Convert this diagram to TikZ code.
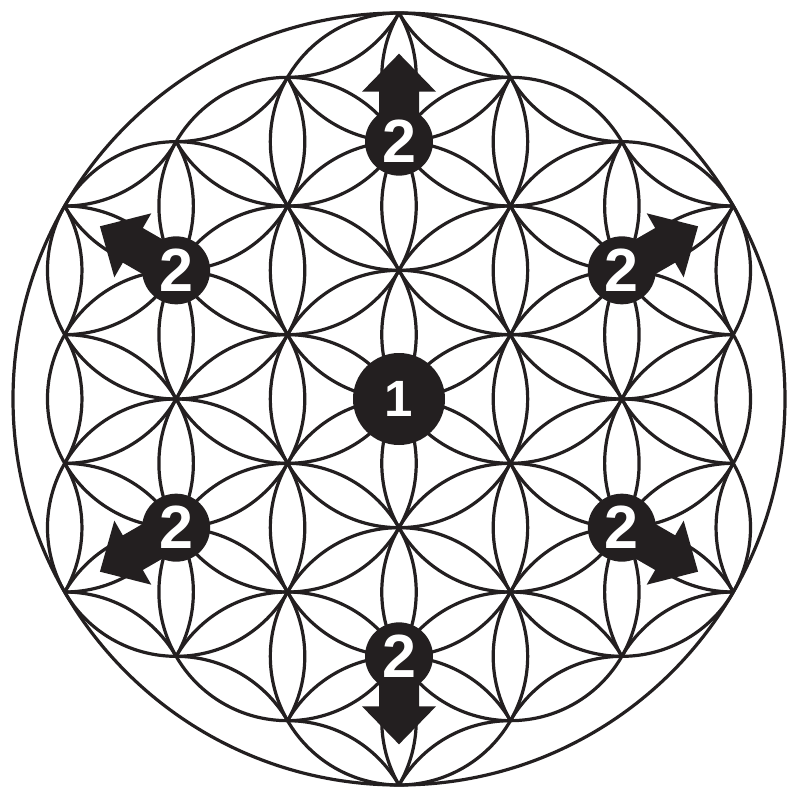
\documentclass[tikz,border=0pt]{standalone}
\usepackage{fontspec}
\setmainfont{Liberation Sans}
\definecolor{ink}{RGB}{35,31,32}
\begin{document}
\begin{tikzpicture}[x=128.67pt,y=128.67pt,
  petal/.style={draw=ink,line width=3.2pt},
  rim/.style={draw=ink,line width=3.2pt},
  bigdot/.style={circle,fill=ink,text=white,inner sep=0pt,minimum size=92pt,font=\fontsize{51}{51}\selectfont\bfseries},
  smalldot/.style={circle,fill=ink,text=white,inner sep=0pt,minimum size=68pt,font=\fontsize{61}{61}\selectfont\bfseries},
  blockarrow/.style={fill=ink}]
\useasboundingbox (-3.101,-3.0155) rectangle (3.031,3.101);
% petals: 60-degree arcs between neighbouring lattice points inside the rim
\foreach \i in {-6,...,6}{
 \foreach \j in {-4,...,4}{
  \pgfmathsetmacro\cx{\j*0.8660254}
  \pgfmathsetmacro\cy{\i+\j*0.5}
  \foreach \k in {0,...,5}{
   \pgfmathsetmacro\aa{30+60*\k}
   \pgfmathsetmacro\ab{90+60*\k}
   \pgfmathsetmacro\da{veclen(\cx+cos(\aa),\cy+sin(\aa))}
   \pgfmathsetmacro\db{veclen(\cx+cos(\ab),\cy+sin(\ab))}
   \pgfmathtruncatemacro\ok{and(\da<3.01,\db<3.01)}
   \ifnum\ok=1
     \draw[petal] (\cx,\cy) ++(\aa:128.67pt) arc[start angle=\aa,end angle=\ab,radius=128.67pt];
   \fi
  }}}
\draw[rim] (0,0) circle[radius=386pt];
% outward block arrows
\foreach \t in {30,90,150,210,270,330}{
 \begin{scope}[shift={(\t:2)},rotate=\t]
  \fill[blockarrow] (0pt,-20pt) -- (50pt,-20pt) -- (50pt,-37pt) -- (88pt,0pt) -- (50pt,37pt) -- (50pt,20pt) -- (0pt,20pt) -- cycle;
 \end{scope}
 \node[smalldot] (m\t) at (\t:2) {2};
}
\node[bigdot] (c1) at (0,0) {1};
\end{tikzpicture}
\end{document}
